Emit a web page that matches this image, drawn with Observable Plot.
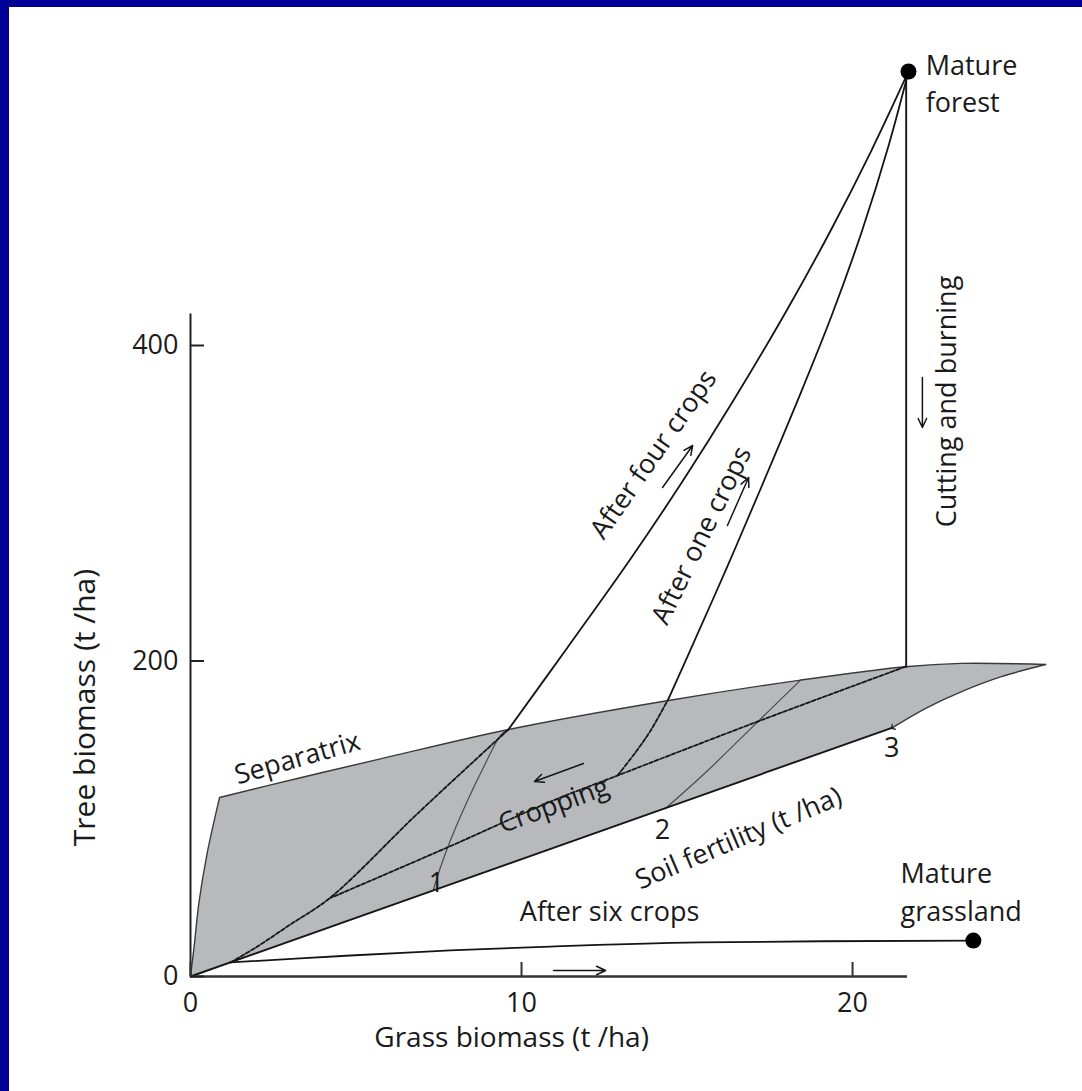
<!DOCTYPE html>
<html><head><meta charset="utf-8">
<script src="https://cdn.jsdelivr.net/npm/d3@7"></script>
<script src="https://cdn.jsdelivr.net/npm/@observablehq/plot@0.6"></script>
<style>
body{margin:0;background:#fff;}
#page{position:relative;width:1082px;height:1091px;overflow:hidden;background:#fff;}
#chart{position:absolute;left:0;top:0;}
.band{position:absolute;background:#000099;}
</style></head>
<body>
<div id="page"><div id="chart"></div>
<div class="band" style="left:0;top:0;width:1082px;height:7px"></div>
<div class="band" style="left:0;top:0;width:9px;height:1091px"></div>
</div>
<script>
// ---- data (grass biomass t/ha, tree biomass t/ha) ----
const xTicks = [0, 10, 20];
const yTicks = [0, 200, 400];

const leftEdge = [[0,0],[0.12,20.9],[0.25,46.1],[0.50,77.8],[0.88,113.5]];
const separatrix = [[0.88,113.5],[3.32,126.0],[5.83,138.4],[9.61,156.6],[14.44,175.0],[18.43,187.9],[21.60,196.4],[23.26,198.5],[25.83,197.8]];
const lowerEdge = [[25.83,197.8],[24.47,189.9],[23.26,180.3],[22.21,170.0],[21.21,157.8]];
const soilLine = [[0,0],[7.34,54.6],[14.35,106.8],[21.21,157.8]];
const isoline1 = [[7.34,55.2],[7.55,69.1],[7.85,86.2],[8.37,111.6],[8.85,132.5],[9.37,152.8],[9.60,156.5]];
const isoline2 = [[14.35,106.5],[15.56,129.3],[16.77,154.0],[18.43,187.9]];

const fourCrops = [[21.69,573.7],[20.57,523.6],[19.34,472.9],[18.01,422.2],[16.40,365.1],[14.88,314.4],[13.26,263.7],[11.39,208.6],[9.60,156.5]];
const fourCropsDashed = [[9.60,156.5],[6.86,103.3],[4.23,50.1],[3.02,33.0],[2.02,19.0],[1.21,8.9]];
const oneCrop = [[21.69,573.7],[21.09,526.8],[20.29,472.9],[19.37,419.0],[18.34,365.1],[17.24,310.0],[16.19,258.6],[15.12,207.9],[14.46,176.9]];
const oneCropDashed = [[14.46,176.9],[13.90,155.9],[13.44,142.0],[12.90,127.4]];
const cropping = [[21.60,196.4],[17.22,162.3],[12.90,127.4],[10.88,110.9],[7.76,81.8],[4.23,49.8]];
const sixCrops = [[1.21,8.9],[4.83,13.3],[7.85,16.5],[10.88,19.0],[15.41,21.6],[23.65,22.8]];
const cutting = [[21.62,573.7],[21.62,196.4]];
const endStates = [[21.69,573.7],[23.65,22.8]];

// arrows: [x1, y1, x2, y2]
const arrowsData = [
  [10.97,3.8,12.54,3.8],
  [11.87,135.0,10.39,123.6],
  [14.26,310.0,15.17,336.6],
  [16.22,285.9,16.86,316.3],
  [22.11,379.7,22.11,348.0]
];

// labels: [text, x, y]
const plainLabels = [["After six crops",12.66,40.6],["1",7.43,59.0],["2",14.26,92.6],["3",21.18,144.5]];
const endLabels = [["Mature\nforest",22.21,567.4],["Mature\ngrassland",21.45,54.8]];
const tiltedLabels = [["Separatrix",3.23,138.2,-16],["Cropping",10.97,108.4,-20],["Soil fertility (t /ha)",16.56,87.5,-23],["After four crops",13.99,330.9,-55],["After one crops",15.44,279.6,-64],["Cutting and burning",22.87,364.5,-90]];
const axisTitles = [["Grass biomass (t /ha)",9.70,-39.3],["Tree biomass (t /ha)",-3.17,170.5]];

// ---- drawing ----
const X = d => d[0], Y = d => d[1];
const regionFill = [...leftEdge, ...separatrix.slice(1), ...lowerEdge.slice(1), ...soilLine.slice().reverse().slice(1)];
const ink = "#151515";
const solid = {x: X, y: Y, stroke: ink, strokeWidth: 1.8, curve: "catmull-rom"};
const dashed = {...solid, strokeDasharray: "4,2"};
const edge = {x: X, y: Y, stroke: "#3a3a3a", strokeWidth: 1.4, curve: "catmull-rom"};
const txt = {fill: "#1a1a1a", fontSize: 27};

const chart = Plot.plot({
  width: 1082, height: 1091,
  marginLeft: 190, marginRight: 175, marginTop: 313.45, marginBottom: 115,
  x: {domain: [0, 21.66]},
  y: {domain: [0, 420]},
  style: {fontFamily: "'Open Sans', 'DejaVu Sans', sans-serif", background: "transparent", overflow: "visible"},
  marks: [
    Plot.line(regionFill, {x: X, y: Y, fill: "#b7b9bc", stroke: "none"}),
    Plot.line(isoline1, {...edge, stroke: "#4a4a4a", strokeWidth: 1.2}),
    Plot.line(isoline2, {...edge, stroke: "#4a4a4a", strokeWidth: 1.2}),
    Plot.line(leftEdge, edge),
    Plot.line(separatrix, edge),
    Plot.line(lowerEdge, {...edge, markerEnd: "arrow"}),
    Plot.line(soilLine, {x: X, y: Y, stroke: ink, strokeWidth: 1.9}),
    Plot.line(cropping, dashed),
    Plot.line(fourCropsDashed, dashed),
    Plot.line(oneCropDashed, dashed),
    Plot.line(fourCrops, solid),
    Plot.line(oneCrop, solid),
    Plot.line(sixCrops, solid),
    Plot.line(cutting, {x: X, y: Y, stroke: ink, strokeWidth: 1.9}),
    Plot.dot(endStates, {x: X, y: Y, r: 8, fill: "#000", stroke: "none"}),
    Plot.arrow(arrowsData, {x1: d => d[0], y1: d => d[1], x2: d => d[2], y2: d => d[3], stroke: ink, strokeWidth: 1.5, headLength: 10, headAngle: 50}),
    Plot.ruleX([0], {stroke: "#222", strokeWidth: 2}),
    Plot.ruleY([0], {stroke: "#333", strokeWidth: 2.6}),
    Plot.axisX(xTicks, {tickSize: -14, tickPadding: 30, fontSize: 27, label: null, stroke: "#333", strokeWidth: 2, fill: "#1a1a1a", tickFormat: d => String(d)}),
    Plot.axisY(yTicks, {tickSize: -14, tickPadding: 26, fontSize: 27, label: null, stroke: "#222", strokeWidth: 2, fill: "#1a1a1a", tickFormat: d => String(d)}),
    Plot.text(plainLabels, {x: d => d[1], y: d => d[2], text: d => d[0], ...txt}),
    Plot.text(endLabels, {x: d => d[1], y: d => d[2], text: d => d[0], textAnchor: "start", lineHeight: 1.4, ...txt}),
    Plot.text(tiltedLabels, {x: d => d[1], y: d => d[2], text: d => d[0], rotate: d => d[3], ...txt}),
    Plot.text(axisTitles.slice(0, 1), {x: d => d[1], y: d => d[2], text: d => d[0], fill: "#1a1a1a", fontSize: 28}),
    Plot.text(axisTitles.slice(1), {x: d => d[1], y: d => d[2], text: d => d[0], rotate: -90, fill: "#1a1a1a", fontSize: 30})
  ]
});
document.getElementById("chart").appendChild(chart);
</script>
</body></html>
